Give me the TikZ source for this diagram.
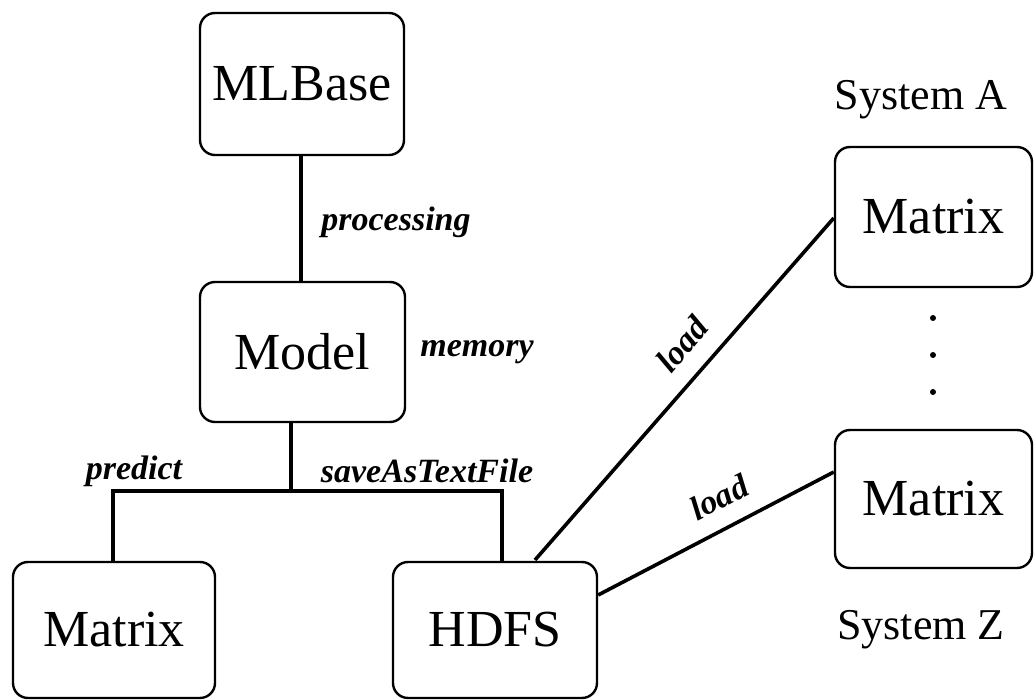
\documentclass[tikz,border=0pt]{standalone}
\usepackage{fontspec}
\setmainfont{Liberation Serif}
\begin{document}
\begin{tikzpicture}[x=1pt,y=-1pt,
  box/.style={draw, line width=2.4pt, rounded corners=15pt, align=center,
    inner sep=0pt, font=\fontsize{52}{60}\selectfont},
  conn/.style={line width=4.2pt},
  lbl/.style={font=\fontsize{34}{40}\selectfont\bfseries\itshape, inner sep=0pt},
  sys/.style={font=\fontsize{44}{50}\selectfont, inner sep=0pt},
  dotmark/.style={fill=black, circle, inner sep=0pt, minimum size=6pt}]
\useasboundingbox (0,0) rectangle (1034,700);

% boxes
\node[box, minimum width=204pt, minimum height=142pt] (mlbase) at (302,84) {MLBase};
\node[box, minimum width=205pt, minimum height=140pt] (model) at (302.5,352) {Model};
\node[box, minimum width=202pt, minimum height=136pt] (matp) at (114,630) {Matrix};
\node[box, minimum width=204pt, minimum height=136pt] (hdfs) at (495,630) {HDFS};
\node[box, minimum width=197pt, minimum height=140pt] (mata) at (933.5,217) {Matrix};
\node[box, minimum width=197pt, minimum height=138pt] (matz) at (933.5,499) {Matrix};

% system captions and ellipsis
\node[sys] (sysa) at (921,100) {System A};
\node[sys] (sysz) at (921,630) {System Z};
\node[dotmark] (d1) at (933,318) {};
\node[dotmark] (d2) at (933,355) {};
\node[dotmark] (d3) at (933,392) {};

% connectors
\draw[conn] (mlbase.south -| 301,0) -- (model.north -| 301,0);
\coordinate (bus) at (291,491);
\draw[conn] (model.south -| bus) -- (bus);
\draw[conn, line join=miter] (matp.north -| 113,0) |- (bus) -| (hdfs.north -| 502,0);
\coordinate (la) at (535,560);
\draw[conn, line width=3.6pt] (la) -- ([yshift=-1pt]mata.west);
\draw[conn, line width=3.6pt] ([yshift=35pt]hdfs.east) -- ([yshift=27pt]matz.west);

% labels
\node[lbl] (lproc) at (396,222) {processing};
\node[lbl] (lmem) at (477,352) {memory};
\node[lbl] (lpred) at (134,471) {predict};
\node[lbl] (lsave) at (427,471) {saveAsTextFile};
\node[lbl, rotate=50] (lload1) at (682,344) {load};
\node[lbl, rotate=27] (lload2) at (719,497) {load};
\end{tikzpicture}
\end{document}
